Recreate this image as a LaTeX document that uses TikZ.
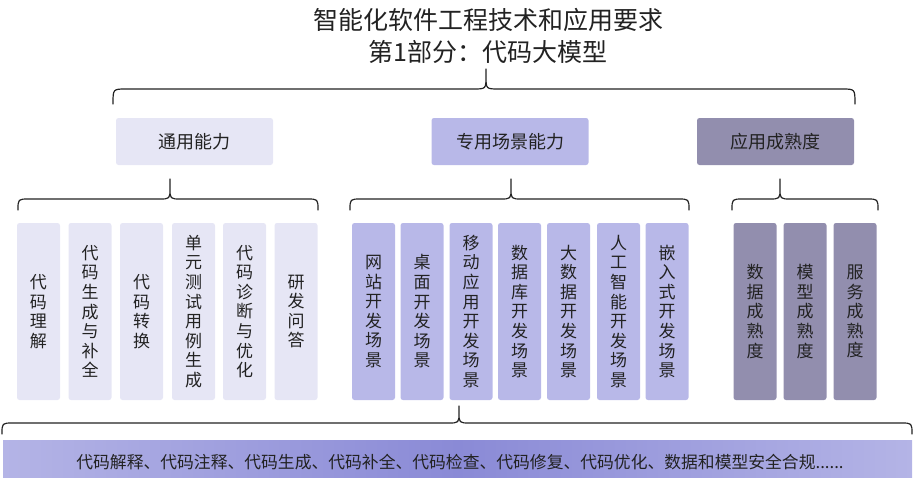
\documentclass[tikz,border=0pt]{standalone}
\usepackage{fontspec}
\setmainfont{Noto Sans CJK SC}
\definecolor{cLight}{HTML}{E6E6F5}
\definecolor{cMid}{HTML}{B8B8E8}
\definecolor{cDark}{HTML}{928EAE}
\definecolor{cBarEdge}{HTML}{B4B4E6}
\definecolor{cBarMid}{HTML}{8A8AD6}
\definecolor{cText}{HTML}{222222}
\begin{document}
\begin{tikzpicture}[x=1pt,y=-1pt,
  hdr/.style={rounded corners=2.5pt, minimum width=157pt, minimum height=47pt,
    font=\fontsize{18}{20}\selectfont, text=cText, inner sep=0pt},
  colbox/.style={rounded corners=2.5pt, minimum width=43pt, minimum height=177pt,
    font=\fontsize{17}{19.6}\selectfont, align=center, text=cText, inner sep=0pt},
  bracepath/.style={line width=1.2pt, draw=cText, line cap=round, line join=round},
]
\useasboundingbox (0,0) rectangle (914,480);

% title
\node[align=center, font=\fontsize{25}{32}\selectfont, text=cText] (title) at (488,36)
  {智能化软件工程技术和应用要求\\第1部分：代码大模型};

% brace macro
\newcommand\mybrace[7]{% x1, x2, xt, yt, yh, yb, r
  \draw[bracepath] (#1,#6) .. controls (#1,#5) .. (#1+#7,#5) -- (#3-#7,#5)
    .. controls (#3,#5) .. (#3,#5-#7) -- (#3,#4) -- (#3,#5-#7)
    .. controls (#3,#5) .. (#3+#7,#5) -- (#2-#7,#5) .. controls (#2,#5) .. (#2,#6);}

\mybrace{113}{855}{486}{69}{89}{104}{13}

% headers
\node[hdr, fill=cLight] (h1) at (194.5,141.5) {通用能力};
\node[hdr, fill=cMid] (h2) at (510,141.5) {专用场景能力};
\node[hdr, fill=cDark] (h3) at (775.5,141.5) {应用成熟度};

\mybrace{18}{318}{170}{179}{199}{210}{11}
\mybrace{350}{689}{511}{179}{199}{210}{11}
\mybrace{732}{878}{780}{179}{199}{210}{11}

% general columns
\node[colbox, fill=cLight] (g1) at (38.5,311.5) {代\\码\\理\\解};
\node[colbox, fill=cLight] (g2) at (90,311.5) {代\\码\\生\\成\\与\\补\\全};
\node[colbox, fill=cLight] (g3) at (141.5,311.5) {代\\码\\转\\换};
\node[colbox, fill=cLight] (g4) at (193.5,311.5) {单\\元\\测\\试\\用\\例\\生\\成};
\node[colbox, fill=cLight] (g5) at (244.5,311.5) {代\\码\\诊\\断\\与\\优\\化};
\node[colbox, fill=cLight] (g6) at (296,311.5) {研\\发\\问\\答};

% special columns
\node[colbox, fill=cMid] (s1) at (373.5,311.5) {网\\站\\开\\发\\场\\景};
\node[colbox, fill=cMid] (s2) at (422,311.5) {桌\\面\\开\\发\\场\\景};
\node[colbox, fill=cMid] (s3) at (471,311.5) {移\\动\\应\\用\\开\\发\\场\\景};
\node[colbox, fill=cMid] (s4) at (519.5,311.5) {数\\据\\库\\开\\发\\场\\景};
\node[colbox, fill=cMid] (s5) at (568.5,311.5) {大\\数\\据\\开\\发\\场\\景};
\node[colbox, fill=cMid] (s6) at (618.5,311.5) {人\\工\\智\\能\\开\\发\\场\\景};
\node[colbox, fill=cMid] (s7) at (667,311.5) {嵌\\入\\式\\开\\发\\场\\景};

% maturity columns
\node[colbox, fill=cDark] (m1) at (755,311.5) {数\\据\\成\\熟\\度};
\node[colbox, fill=cDark] (m2) at (805,311.5) {模\\型\\成\\熟\\度};
\node[colbox, fill=cDark] (m3) at (855,311.5) {服\\务\\成\\熟\\度};

% bottom brace
\mybrace{2}{912}{459}{406}{423}{434}{11}

% bottom bar
\shade[left color=cBarEdge, right color=cBarEdge, middle color=cBarMid] (3,440) rectangle (912,477);
\node[font=\fontsize{16.8}{19}\selectfont, text=cText, inner sep=0pt] (bar) at (460,462)
  {代码解释、代码注释、代码生成、代码补全、代码检查、代码修复、代码优化、数据和模型安全合规......};
\end{tikzpicture}
\end{document}
